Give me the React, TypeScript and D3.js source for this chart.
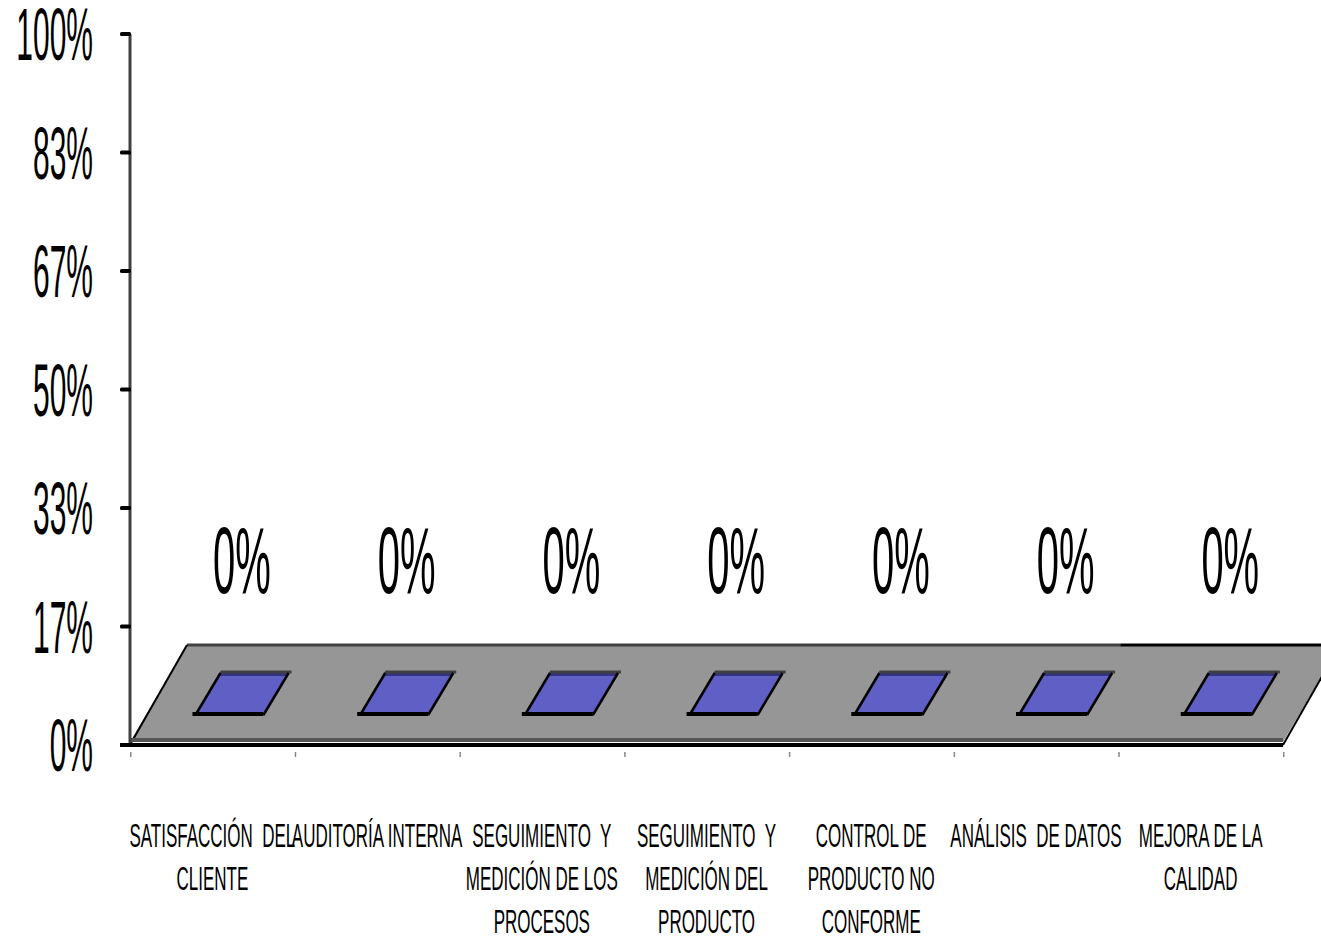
import React from "react";
import * as d3 from "d3";

// Categories (line breaks as shown on the axis) and their values
const categories = [
  "SATISFACCIÓN  DEL\nCLIENTE",
  "AUDITORÍA INTERNA",
  "SEGUIMIENTO  Y\nMEDICIÓN DE LOS\nPROCESOS",
  "SEGUIMIENTO  Y\nMEDICIÓN DEL\nPRODUCTO",
  "CONTROL DE\nPRODUCTO NO\nCONFORME",
  "ANÁLISIS  DE DATOS",
  "MEJORA DE LA\nCALIDAD",
];
const values = [0, 0, 0, 0, 0, 0, 0];
const yTicks = [0, 1 / 6, 2 / 6, 3 / 6, 4 / 6, 5 / 6, 1];
const yTickLabels = ["0%", "17%", "33%", "50%", "67%", "83%", "100%"];

const W = 1321;
const H = 940;
const FONT = "'Liberation Sans', Arial, sans-serif";

// 3D projection: full floor depth offset
const DEPTH_X = 57;
const DEPTH_Y = -100;
const BAR_FRONT = 0.3;
const BAR_BACK = 0.74;
const BAR_WIDTH_FRAC = 0.413;

export default function App() {
  const x = d3.scaleBand<string>().domain(categories).range([130, 1283]).padding(0);
  const y = d3.scaleLinear().domain([0, 1]).range([745, 34]);
  const y0 = y(0);
  const proj = (px: number, py: number, f: number): [number, number] => [
    px + f * DEPTH_X,
    py + f * DEPTH_Y,
  ];
  const pts = (arr: [number, number][]) => arr.map((p) => p.join(",")).join(" ");

  const x0 = x.range()[0];
  const x1 = x.range()[1];
  const lastStart = x(categories[categories.length - 1]) as number;

  // floor top face
  const floorTop = 742;
  const floor: [number, number][] = [
    [x0, floorTop],
    [x1, floorTop],
    proj(x1, y0, 1),
    proj(x0, y0, 1),
  ];
  const backY = y0 + DEPTH_Y;

  const boundaries = [...categories.map((c) => x(c) as number), x1];

  return (
    <svg
      width={W}
      height={H}
      style={{ position: "absolute", left: 0, top: 0, background: "#fff" }}
    >
      {/* floor */}
      <polygon points={pts(floor)} fill="#969696" />
      <line x1={x0 + DEPTH_X} y1={backY} x2={lastStart + 2} y2={backY} stroke="#404040" strokeWidth={3} />
      <line x1={lastStart + 2} y1={backY} x2={x1 + DEPTH_X} y2={backY} stroke="#000" strokeWidth={3} />
      <line x1={x0 + 1} y1={y0 - 2} x2={x0 + DEPTH_X} y2={backY} stroke="#000" strokeWidth={2} />
      <line x1={x1} y1={y0} x2={x1 + DEPTH_X} y2={backY} stroke="#000" strokeWidth={2} />
      <rect x={x0} y={738} width={x1 - x0} height={4} fill="#555" />

      {/* y axis */}
      <line x1={x0} y1={y(1)} x2={x0} y2={y0} stroke="#404040" strokeWidth={3} />
      {yTicks.map((t, i) => (
        <g key={i}>
          <rect x={120} y={y(t) - 2} width={11} height={4} rx={1.5} fill="#000" />
          <text
            transform={`translate(93, ${y(t) + 26}) scale(1, 2.45)`}
            textAnchor="end"
            fontFamily={FONT}
            fontSize={30}
            fill="#000"
          >
            {yTickLabels[i]}
          </text>
        </g>
      ))}

      {/* base line */}
      <rect x={120} y={y0 - 2} width={x1 - 120} height={4} fill="#000" />

      {/* x ticks */}
      {boundaries.map((b, i) => (
        <rect key={i} x={b} y={752} width={1.5} height={5} fill="#888" />
      ))}

      {/* bars */}
      {categories.map((c, i) => {
        const xc = (x(c) as number) + x.bandwidth() / 2;
        const half = (x.bandwidth() * BAR_WIDTH_FRAC) / 2;
        const top = y(values[i]);
        const fl = proj(xc - half, top, BAR_FRONT);
        const fr = proj(xc + half, top, BAR_FRONT);
        const br = proj(xc + half, top, BAR_BACK);
        const bl = proj(xc - half, top, BAR_BACK);
        const mid = proj(xc, top, (BAR_FRONT + BAR_BACK) / 2);
        return (
          <g key={c}>
            <polygon points={pts([fl, fr, br, bl])} fill="#5F5FC5" />
            <line x1={bl[0]} y1={bl[1] + 3.5} x2={br[0] - 2} y2={br[1] + 3.5} stroke="#333380" strokeWidth={3} />
            <line x1={bl[0]} y1={bl[1] + 1} x2={br[0] + 3} y2={br[1] + 1} stroke="#404040" strokeWidth={3} />
            <line x1={fl[0]} y1={fl[1]} x2={bl[0]} y2={bl[1] + 2} stroke="#000" strokeWidth={2.5} />
            <line x1={fr[0]} y1={fr[1]} x2={br[0]} y2={br[1] + 2} stroke="#000" strokeWidth={2.5} />
            <line x1={fl[0] - 3} y1={fl[1] - 1} x2={fr[0]} y2={fr[1] - 1} stroke="#000" strokeWidth={4} />
            <text
              transform={`translate(${mid[0]}, 593) scale(1, 2.37)`}
              textAnchor="middle"
              fontFamily={FONT}
              fontSize={40}
              fill="#000"
            >
              {`${Math.round(values[i] * 100)}%`}
            </text>
          </g>
        );
      })}

      {/* category labels */}
      {categories.map((c) => {
        const xc = (x(c) as number) + x.bandwidth() / 2;
        return c.split("\n").map((line, j) => (
          <text
            key={c + j}
            transform={`translate(${xc}, ${847 + j * 43}) scale(1, 2.0)`}
            textAnchor="middle"
            fontFamily={FONT}
            fontSize={17}
            fill="#000"
            style={{ whiteSpace: "pre" }}
          >
            {line}
          </text>
        ));
      })}
    </svg>
  );
}
